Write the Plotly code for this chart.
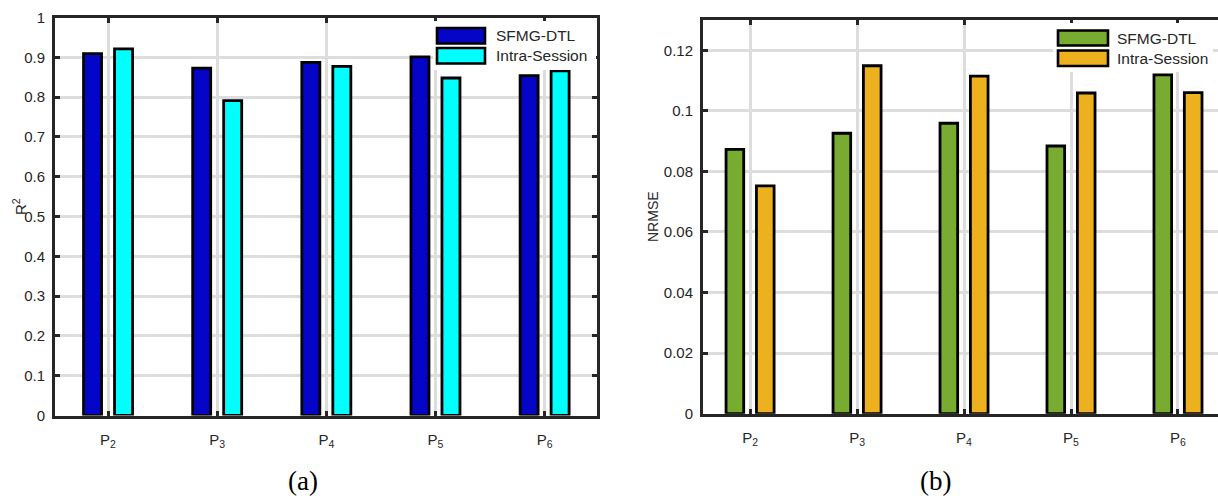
import plotly.graph_objects as go

# ---- data ----
categories = ["P2", "P3", "P4", "P5", "P6"]
tick_labels = ["P<sub>2</sub>", "P<sub>3</sub>", "P<sub>4</sub>", "P<sub>5</sub>", "P<sub>6</sub>"]
series_names = ["SFMG-DTL", "Intra-Session"]
r2_sfmg = [0.909, 0.873, 0.887, 0.901, 0.854]
r2_intra = [0.921, 0.791, 0.877, 0.848, 0.866]
nrmse_sfmg = [0.0873, 0.0926, 0.0959, 0.0884, 0.1119]
nrmse_intra = [0.0752, 0.1149, 0.1115, 0.1059, 0.1060]
r2_ticks = [0, 0.1, 0.2, 0.3, 0.4, 0.5, 0.6, 0.7, 0.8, 0.9, 1]
nrmse_ticks = [0, 0.02, 0.04, 0.06, 0.08, 0.1, 0.12]
captions = ["(a)", "(b)"]

W, H = 1218, 496
AX = "#262626"
GRID = "#DDDDDD"
FONT = "Liberation Sans"

def px(x):
    return x / W

def py(y):
    return 1 - y / H

colors_a = ["#0505C8", "#00FFFF"]
colors_b = ["#77AC30", "#EDB120"]
bar_w = 0.165
centers = [-0.142, 0.142]

fig = go.Figure()

for vals, name, col, c in zip([r2_sfmg, r2_intra], series_names, colors_a, centers):
    fig.add_trace(go.Bar(x=categories, y=vals, name=name, xaxis="x", yaxis="y",
                         marker=dict(color=col, line=dict(color="black", width=2.8)),
                         width=bar_w, offset=c - bar_w / 2, showlegend=False))
for vals, name, col, c in zip([nrmse_sfmg, nrmse_intra], series_names, colors_b, centers):
    fig.add_trace(go.Bar(x=categories, y=vals, name=name, xaxis="x2", yaxis="y2",
                         marker=dict(color=col, line=dict(color="black", width=2.8)),
                         width=bar_w, offset=c - bar_w / 2, showlegend=False))

xcommon = dict(type="category", categoryorder="array", categoryarray=categories,
               tickvals=categories, ticktext=tick_labels, automargin=False,
               showline=True, linecolor=AX, linewidth=3, mirror="ticks",
               ticks="inside", ticklen=5, tickwidth=3, tickcolor=AX,
               showgrid=True, gridcolor=GRID, gridwidth=3, ticklabelstandoff=8,
               tickfont=dict(family=FONT, size=15, color=AX), zeroline=False)
ycommon = dict(showline=True, linecolor=AX, linewidth=3, automargin=False,
               ticks="inside", ticklen=5, tickwidth=3, tickcolor=AX,
               showgrid=True, gridcolor=GRID, gridwidth=3, zeroline=False,
               ticklabelstandoff=4,
               tickfont=dict(family=FONT, size=15, color=AX))

fig.update_layout(
    template="none",
    width=W, height=H, margin=dict(l=0, r=0, t=0, b=0, pad=0),
    paper_bgcolor="white", plot_bgcolor="white",
    barmode="overlay", showlegend=False,
    xaxis=dict(domain=[px(55), px(597)], range=[-0.486, 4.48], anchor="y", **xcommon),
    yaxis=dict(domain=[py(415.5), py(17.5)], range=[0, 1], tickvals=r2_ticks,
               mirror="ticks", anchor="x", **ycommon),
    xaxis2=dict(domain=[px(703), 1.0], range=[-0.44, 4.374], anchor="y2", **xcommon),
    yaxis2=dict(domain=[py(413.7), py(20)], range=[0, 0.13], tickvals=nrmse_ticks,
                mirror=False, anchor="x2", **ycommon),
)

shapes = []
annotations = []

# custom legends (MATLAB-style wide swatches)
def add_legend(x0, x1, y0, y1, sw_x0, sw_x1, rows, text_x, cols):
    shapes.append(dict(type="rect", xref="paper", yref="paper", x0=px(x0), x1=px(x1),
                       y0=py(y1), y1=py(y0), fillcolor="white", line=dict(width=0),
                       layer="above"))
    for (ry0, ry1), col, name in zip(rows, cols, series_names):
        shapes.append(dict(type="rect", xref="paper", yref="paper", x0=px(sw_x0), x1=px(sw_x1),
                           y0=py(ry1), y1=py(ry0), fillcolor=col,
                           line=dict(color="black", width=2.6), layer="above"))
        annotations.append(dict(xref="paper", yref="paper", x=px(text_x), y=py((ry0 + ry1) / 2),
                                text=name, showarrow=False, xanchor="left", yanchor="middle",
                                font=dict(family=FONT, size=15.5, color=AX)))

add_legend(433, 596, 21, 70, 437, 485, [(28, 43.5), (48, 63.5)], 494, colors_a)
add_legend(1053, 1213, 23, 72, 1058, 1108, [(30.5, 45.5), (50.5, 66)], 1115, colors_b)

# axis titles
annotations.append(dict(xref="paper", yref="paper", x=px(19), y=py(207), text="R<sup>2</sup>",
                        textangle=-90, showarrow=False, xanchor="center", yanchor="middle",
                        font=dict(family=FONT, size=15, color=AX)))
annotations.append(dict(xref="paper", yref="paper", x=px(653), y=py(217), text="NRMSE",
                        textangle=-90, showarrow=False, xanchor="center", yanchor="middle",
                        font=dict(family=FONT, size=14, color=AX)))

# captions
for cap, cx in zip(captions, [303, 935]):
    annotations.append(dict(xref="paper", yref="paper", x=px(cx), y=py(481), text=cap,
                            showarrow=False, xanchor="center", yanchor="middle",
                            font=dict(family="Liberation Serif", size=27, color="black")))

fig.update_layout(shapes=shapes, annotations=annotations)
fig.write_html("out.html", config={"displayModeBar": False},
               post_script="document.body.style.margin='0';")
